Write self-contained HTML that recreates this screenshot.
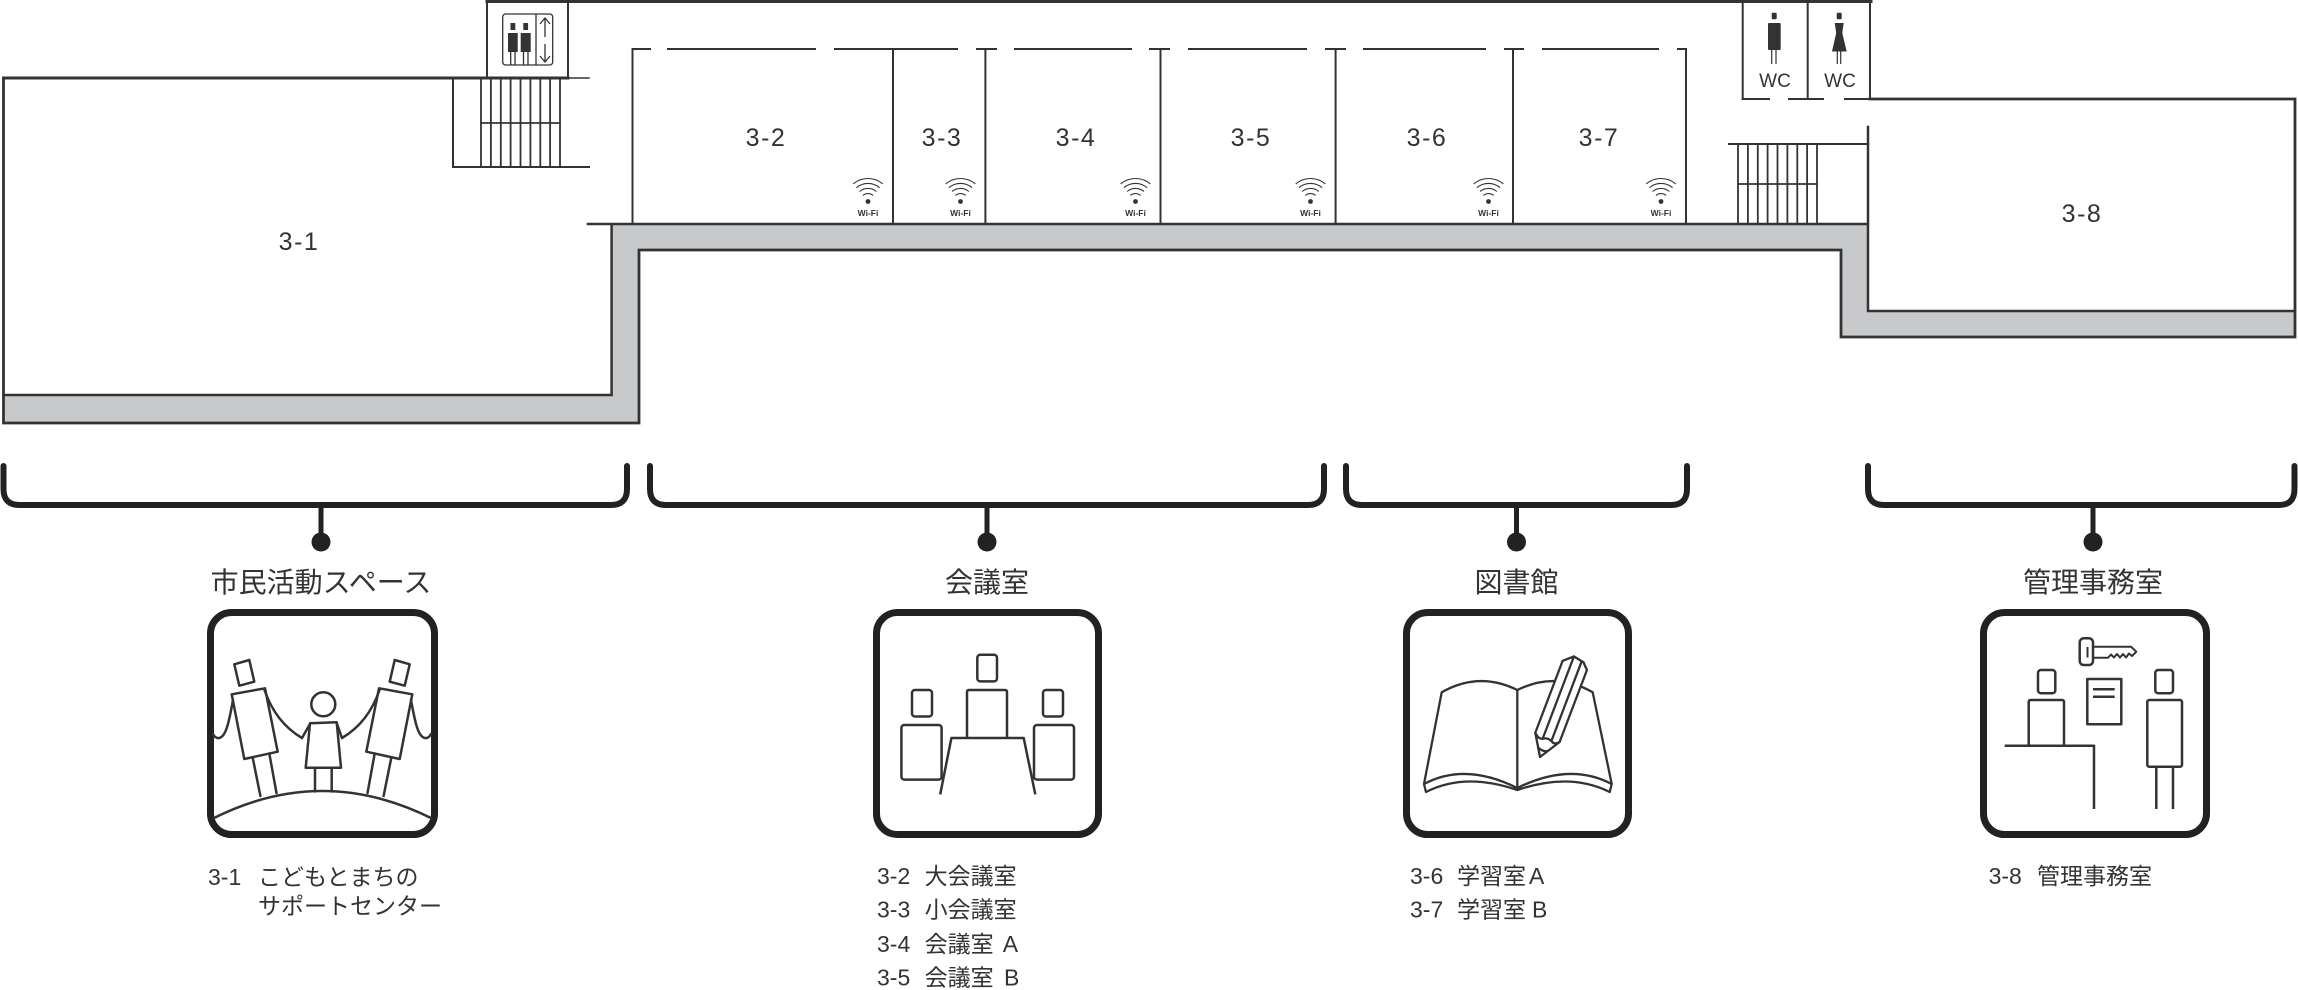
<!DOCTYPE html>
<html><head><meta charset="utf-8"><style>
html,body{margin:0;padding:0;background:#fff;}
svg{display:block;}
.rl{font-family:"Liberation Sans",sans-serif;font-size:25px;fill:#333;letter-spacing:1.5px;}
.jp{font-family:"Liberation Sans","Noto Sans CJK JP",sans-serif;fill:#333;}
</style></head><body>
<svg width="2298" height="990" viewBox="0 0 2298 990" xmlns="http://www.w3.org/2000/svg">
<!-- gray band -->
<polygon points="3,395 611.6,395 611.6,224 1868,224 1868,311 2295,311 2295,337 1841,337 1841,250 639,250 639,423 3,423" fill="#c8c9ca"/>
<g fill="none" stroke="#333" stroke-linecap="square">
  <!-- top border -->
  <path d="M487,1.5 H1871" stroke-width="3"/>
  <!-- elevator walls -->
  <path d="M487,0 V78 M568,0 V78" stroke-width="2"/>
  <!-- 3-1 -->
  <path d="M3.5,78 H568" stroke-width="3"/>
  <path d="M568,78 H589" stroke-width="1.5"/>
  <path d="M3.5,78 V423 H639 V250 H1841 V337 H2295 V99 H1870" stroke-width="2.8"/>
  <path d="M3.5,395 H611.6 V224 M588,224 H1868 M1868,127 V311 H2295" stroke-width="2.5"/>
  <!-- left stairs -->
  <path d="M453,78 V167 H589" stroke-width="2"/>
  <path d="M481,123 H560" stroke-width="1.8"/>
  <path d="M481,78V167 M490.9,78V167 M500.8,78V167 M510.6,78V167 M520.5,78V167 M530.4,78V167 M540.3,78V167 M550.1,78V167 M560,78V167" stroke-width="1.8"/>
  <!-- room walls -->
  <path d="M632.5,49 V224 M893,49 V224 M985.4,49 V224 M1160.5,49 V224 M1335.6,49 V224 M1513,49 V224 M1686,49 V224" stroke-width="2"/>
  <!-- top dashed -->
  <path d="M632.5,49 H650 M668,49 H815 M835,49 H957 M977,49 H996 M1015,49 H1131 M1150,49 H1169 M1189,49 H1306 M1326,49 H1345 M1364,49 H1485 M1505,49 H1523 M1543,49 H1658 M1678,49 H1686" stroke-width="2"/>
  <!-- WC -->
  <path d="M1742.7,0 V99 M1807.7,0 V99 M1870,0 V99" stroke-width="2"/>
  <path d="M1742.7,99 H1769 M1789,99 H1823 M1845,99 H1870" stroke-width="2"/>
  <!-- right stairs -->
  <path d="M1729,144 H1868" stroke-width="2"/>
  <path d="M1738,184 H1817" stroke-width="1.8"/>
  <path d="M1738,144V224 M1747.9,144V224 M1757.8,144V224 M1767.6,144V224 M1777.5,144V224 M1787.4,144V224 M1797.3,144V224 M1807.1,144V224 M1817,144V224" stroke-width="1.8"/>
</g>

<!-- elevator icon -->
<g fill="none" stroke="#333" stroke-width="1.3">
  <rect x="502.7" y="14" width="50" height="51" rx="3"/>
  <path d="M536,14 V65"/>
  <path d="M540,24 L545,18 L550,24 M545,18 V37 M545,44 V62 M540,56 L545,62 L550,56"/>
  <path d="M510.7,52 V65 M515,52 V65 M523.5,52 V65 M528,52 V65"/>
</g>
<g fill="#333">
  <rect x="510.5" y="23" width="4.8" height="7"/>
  <rect x="523.3" y="23" width="4.8" height="7"/>
  <rect x="508" y="33" width="9.7" height="19"/>
  <rect x="520.7" y="33" width="10" height="19"/>
</g>

<!-- WC icons -->
<g fill="#333">
  <rect x="1771.7" y="12.7" width="5" height="6.6" rx="1"/>
  <rect x="1768" y="23" width="12.7" height="27" rx="1"/>
  <rect x="1836.7" y="12.7" width="5" height="6.6" rx="1"/>
  <path d="M1834.7,23 H1843.7 L1842.3,33 L1846.7,51.5 H1832 L1836.2,33 Z"/>
</g>
<g stroke="#333" stroke-width="1.2">
  <path d="M1771.7,50 V64 M1776,50 V64 M1837.3,51 V64 M1840.7,51 V64"/>
</g>
<text x="1775" y="87" text-anchor="middle" style="font-family:'Liberation Sans',sans-serif;font-size:19px;fill:#333">WC</text>
<text x="1840" y="87" text-anchor="middle" style="font-family:'Liberation Sans',sans-serif;font-size:19px;fill:#333">WC</text>

<!-- room labels -->
<g class="rl" text-anchor="middle">
  <text x="299" y="250">3-1</text>
  <text x="766" y="146">3-2</text>
  <text x="942" y="146">3-3</text>
  <text x="1076" y="146">3-4</text>
  <text x="1251" y="146">3-5</text>
  <text x="1427" y="146">3-6</text>
  <text x="1599" y="146">3-7</text>
  <text x="2082" y="222">3-8</text>
</g>

<!-- wifi icons -->
<defs>
  <g id="wifi">
    <g fill="none" stroke="#333" stroke-width="1.1">
      <path d="M-5.1,-6.1 A8,8 0 0 1 5.1,-6.1"/>
      <path d="M-8.4,-10 A13,13 0 0 1 8.4,-10"/>
      <path d="M-11.6,-13.8 A18,18 0 0 1 11.6,-13.8"/>
      <path d="M-14.8,-17.6 A23,23 0 0 1 14.8,-17.6"/>
    </g>
    <circle cx="0" cy="0" r="2.4" fill="#333"/>
    <text x="0" y="14.5" text-anchor="middle" style="font-family:'Liberation Sans',sans-serif;font-size:8.5px;font-weight:bold;fill:#333">Wi-Fi</text>
  </g>
</defs>
<use href="#wifi" x="868" y="201.5"/>
<use href="#wifi" x="960.5" y="201.5"/>
<use href="#wifi" x="1135.5" y="201.5"/>
<use href="#wifi" x="1310.5" y="201.5"/>
<use href="#wifi" x="1488.5" y="201.5"/>
<use href="#wifi" x="1661" y="201.5"/>

<!-- brackets -->
<g fill="none" stroke="#222" stroke-width="6" stroke-linecap="round">
  <path d="M3.5,466 V489 Q3.5,505 19.5,505 H611 Q627,505 627,489 V466"/>
  <path d="M650,466 V489 Q650,505 666,505 H1308 Q1324,505 1324,489 V466"/>
  <path d="M1346,466 V489 Q1346,505 1362,505 H1671 Q1687,505 1687,489 V466"/>
  <path d="M1868,466 V489 Q1868,505 1884,505 H2279 Q2294.5,505 2294.5,489 V466"/>
</g>
<g stroke="#222" stroke-width="5">
  <path d="M321,505 V536 M987,505 V536 M1516.5,505 V536 M2093,505 V536"/>
</g>
<g fill="#222">
  <circle cx="321" cy="542" r="9.5"/>
  <circle cx="987" cy="542" r="9.5"/>
  <circle cx="1516.5" cy="542" r="9.5"/>
  <circle cx="2093" cy="542" r="9.5"/>
</g>

<!-- category labels -->
<g class="jp" style="font-size:28px" text-anchor="middle">
  <text x="321" y="592">市民活動スペース</text>
  <text x="987" y="592">会議室</text>
  <text x="1516.5" y="592">図書館</text>
  <text x="2093" y="592">管理事務室</text>
</g>

<!-- icon boxes -->
<g fill="none" stroke="#222" stroke-width="7">
  <rect x="210.5" y="612.5" width="224" height="222" rx="21"/>
  <rect x="876.5" y="612.5" width="222" height="222" rx="21"/>
  <rect x="1406.5" y="612.5" width="222" height="222" rx="21"/>
  <rect x="1983.5" y="612.5" width="223" height="222" rx="21"/>
</g>

<!-- icon 1: people -->
<g fill="none" stroke="#333" stroke-width="2.5" stroke-linejoin="round" stroke-linecap="round">
  <g id="adult">
    <path d="M234.3,664.3 L249.3,660 L254.3,681.7 L239.3,685.7 Z"/>
    <path d="M231.7,694.3 L265,688.3 L277.7,751.7 L244.3,759 Z"/>
    <path d="M252.6,757.2 L260.4,796 M269.3,753.5 L276.5,793"/>
    <path d="M233,700 C229,722 226,737 219,738 C216,738.5 214,736 213,734"/>
    <path d="M264.5,690 C272,712 285,728 302,738"/>
  </g>
  <use href="#adult" transform="translate(644,0) scale(-1,1)"/>
  <circle cx="323.3" cy="704.3" r="12"/>
  <path d="M310,723.3 L336.7,722.3 L341,767.7 L305.7,767.7 Z"/>
  <path d="M310,724 L302,738 M336.7,723 L342,738"/>
  <path d="M315,767.7 V791.5 M331.7,767.7 V791.5"/>
  <path d="M214,818 Q322,764 431,818"/>
</g>

<!-- icon 2: meeting -->
<g fill="none" stroke="#333" stroke-width="2.5" stroke-linejoin="round">
  <rect x="977.3" y="654.7" width="19.7" height="26.7" rx="3"/>
  <path d="M967,738 V692 Q967,690 969,690 H1005 Q1007,690 1007,692 V738"/>
  <rect x="912" y="690" width="20" height="26.5" rx="3"/>
  <rect x="901.4" y="725" width="40.2" height="54.6" rx="3"/>
  <rect x="1043" y="690" width="20" height="26.5" rx="3"/>
  <rect x="1034" y="725" width="40" height="54.6" rx="3"/>
  <path d="M940.2,794.4 L951.4,738 H1023.7 L1035.3,794.4" fill="#fff"/>
</g>

<!-- icon 3: book + pencil -->
<g fill="none" stroke="#333" stroke-width="2.3" stroke-linejoin="round" stroke-linecap="round">
  <path d="M1424,784 L1441.7,692.3 Q1479,671 1517.3,690 V789"/>
  <path d="M1517.3,690 Q1556,671 1592.7,692.3 L1611.7,784"/>
  <path d="M1424,784 Q1465,762 1517.3,788 M1426,792 Q1465,772 1517.3,790 M1424,784 L1426,792"/>
  <path d="M1611.7,784 Q1570,762 1517.3,788 M1609.7,792 Q1570,772 1517.3,790 M1611.7,784 L1609.7,792"/>
  <g transform="translate(1540,757) rotate(20.8)">
    <path d="M-13,-21 V-98 L-4,-106 L7,-104 L13,-98 V-21 L0,0 Z" fill="#fff"/>
    <path d="M-4,-18 V-106 M5,-19 V-104"/>
    <path d="M-13,-21 Q-8,-16 -4,-18 Q0,-21 5,-19 Q9,-16 13,-21"/>
    <path d="M-4.5,-8 Q0,-6 4.5,-8"/>
  </g>
</g>

<!-- icon 4: office -->
<g fill="none" stroke="#333" stroke-width="2.5" stroke-linejoin="round">
  <rect x="2079.7" y="638.3" width="13.3" height="26.7" rx="4"/>
  <path d="M2087.5,647 V657.5" stroke-width="2"/>
  <path d="M2093,646.7 H2131 L2136.3,651.7 L2132,656 L2129,653.5 L2126,657.5 L2123,654 L2120,657.5 L2117,654 L2114,657.5 L2111,654.5 L2108,657.7 H2093" stroke-width="2"/>
  <rect x="2038" y="670" width="17.3" height="23.3" rx="3"/>
  <path d="M2028.7,745 V702 Q2028.7,700 2030.7,700 H2062 Q2064,700 2064,702 V745"/>
  <path d="M2004.7,745.7 H2094 V809"/>
  <rect x="2087.3" y="679" width="34" height="45.3"/>
  <path d="M2093,689.3 H2114.7 M2093,696.7 H2114.7"/>
  <rect x="2155.3" y="670" width="17.7" height="23.3" rx="3"/>
  <rect x="2147.3" y="700" width="34.7" height="66.7" rx="2"/>
  <path d="M2156.3,766.7 V809 M2173,766.7 V809"/>
</g>

<!-- captions -->
<g class="jp" style="font-size:23px">
  <text y="885"><tspan x="208">3-1</tspan><tspan x="258">こどもとまちの</tspan></text>
  <text y="914"><tspan x="258">サポートセンター</tspan></text>

  <text y="884"><tspan x="877">3-2</tspan><tspan x="924.6">大会議室</tspan></text>
  <text y="917.5"><tspan x="877">3-3</tspan><tspan x="924.6">小会議室</tspan></text>
  <text y="952"><tspan x="877">3-4</tspan><tspan x="924.6">会議室</tspan><tspan x="1002.7">A</tspan></text>
  <text y="985.5"><tspan x="877">3-5</tspan><tspan x="924.6">会議室</tspan><tspan x="1004">B</tspan></text>

  <text y="884"><tspan x="1410">3-6</tspan><tspan x="1457">学習室</tspan><tspan x="1529">A</tspan></text>
  <text y="917.5"><tspan x="1410">3-7</tspan><tspan x="1457">学習室</tspan><tspan x="1532">B</tspan></text>

  <text y="884"><tspan x="1988.6">3-8</tspan><tspan x="2037">管理事務室</tspan></text>
</g>
</svg>
</body></html>
